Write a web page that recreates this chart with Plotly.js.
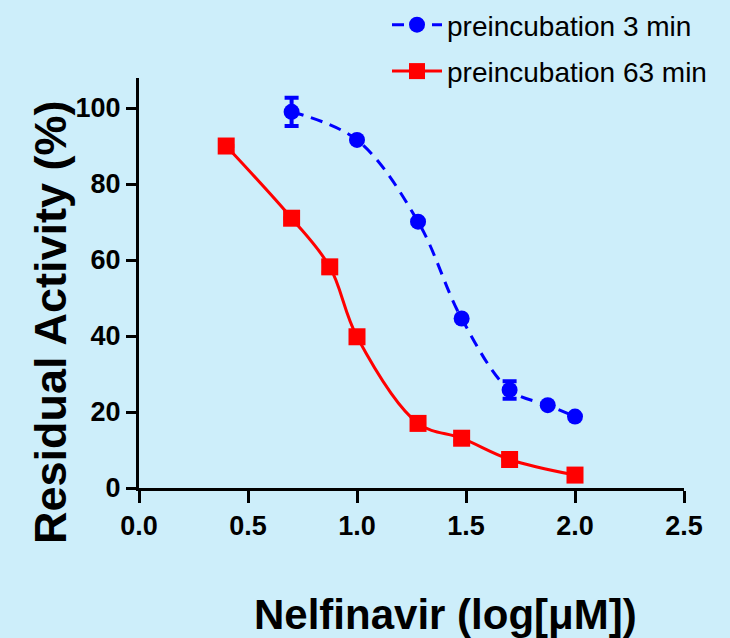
<!DOCTYPE html>
<html>
<head>
<meta charset="utf-8">
<script src="https://cdn.plot.ly/plotly-3.0.1.min.js"></script>
<style>
  html, body { margin: 0; padding: 0; background: #cdeefa; }
  #chart { width: 730px; height: 638px; }
</style>
</head>
<body>
<div id="chart"></div>
<script>
// Data
const seriesNames = ["preincubation 3 min", "preincubation 63 min"];
const xBlue = [0.70, 1.00, 1.28, 1.48, 1.70, 1.875, 2.00];
const yBlue = [99.0, 91.6, 70.1, 44.6, 25.8, 21.8, 18.8];
const errBlue = [3.7, 0, 0, 0, 2.3, 0, 0];
const xRed = [0.40, 0.70, 0.875, 1.00, 1.28, 1.48, 1.70, 2.00];
const yRed = [90.0, 71.0, 58.2, 39.8, 17.0, 13.1, 7.5, 3.4];
const errRed = [0, 0, 1.5, 0, 0, 0.8, 0, 0];
const xTicks = [0, 0.5, 1.0, 1.5, 2.0, 2.5];
const xTickText = ["0.0", "0.5", "1.0", "1.5", "2.0", "2.5"];
const yTicks = [0, 20, 40, 60, 80, 100];
const xTitle = "Nelfinavir (log[\u03BCM])";
const yTitle = "Residual Activity (%)";

const sans = "Liberation Sans, Arial, sans-serif";

// page geometry (pixels)
const W = 730, H = 638;
const mL = 139, mR = 10, mT = 0, mB = 150;
const plotW = W - mL - mR, plotH = H - mT - mB;
const axRight = 684, axTop = 78;
const px = v => (v - mL) / plotW;          // pixel x -> paper x
const py = v => (H - mB - v) / plotH;      // pixel y -> paper y

const traces = [
  {
    x: xBlue, y: yBlue, name: seriesNames[0], type: "scatter", mode: "lines+markers",
    legendgroup: "a",
    line: { color: "#0000ff", width: 3, dash: "12px,8px", shape: "spline", smoothing: 1 },
    marker: { color: "#0000ff", symbol: "circle", size: 16 },
    error_y: { type: "data", array: errBlue, visible: true, color: "#0000ff", thickness: 4, width: 7 },
    cliponaxis: false
  },
  {
    x: xRed, y: yRed, name: seriesNames[1], type: "scatter", mode: "lines+markers",
    legendgroup: "b",
    line: { color: "#ff0000", width: 3, shape: "spline", smoothing: 1 },
    marker: { color: "#ff0000", symbol: "square", size: 17 },
    error_y: { type: "data", array: errRed, visible: true, color: "#ff0000", thickness: 4, width: 8 },
    cliponaxis: false
  }
];

const layout = {
  width: W, height: H,
  paper_bgcolor: "#cdeefa", plot_bgcolor: "rgba(0,0,0,0)",
  margin: { l: mL, r: mR, t: mT, b: mB },
  showlegend: true,
  legend: {
    x: px(387), y: 1, xanchor: "left", yanchor: "top",
    bgcolor: "rgba(0,0,0,0)", font: { family: sans, size: 28, color: "#000" },
    traceorder: "grouped", tracegroupgap: 7, itemwidth: 50
  },
  xaxis: {
    domain: [0, px(axRight)],
    range: [0, 2.5], tickvals: xTicks, ticktext: xTickText,
    showline: true, linewidth: 3, linecolor: "#000",
    ticks: "outside", ticklen: 12, tickwidth: 3, tickcolor: "#000",
    showgrid: false, zeroline: false, automargin: false,
    tickfont: { family: sans, size: 27, weight: "bold", color: "#000" }
  },
  yaxis: {
    domain: [0, py(axTop)],
    range: [0, 107.9], tickvals: yTicks,
    showline: true, linewidth: 3, linecolor: "#000",
    ticks: "outside", ticklen: 10, tickwidth: 3, tickcolor: "#000",
    showgrid: false, zeroline: false, automargin: false,
    tickfont: { family: sans, size: 27, weight: "bold", color: "#000" }
  },
  annotations: [
    { text: xTitle, xref: "paper", yref: "paper", x: px(445.5), y: py(614),
      xanchor: "center", yanchor: "middle", showarrow: false,
      font: { family: sans, size: 42, weight: "bold", color: "#000" } },
    { text: yTitle, xref: "paper", yref: "paper", x: px(50), y: py(323),
      xanchor: "center", yanchor: "middle", showarrow: false, textangle: -90,
      font: { family: sans, size: 45, weight: "bold", color: "#000" } }
  ]
};

Plotly.newPlot("chart", traces, layout, { displayModeBar: false, staticPlot: true });
</script>
</body>
</html>
